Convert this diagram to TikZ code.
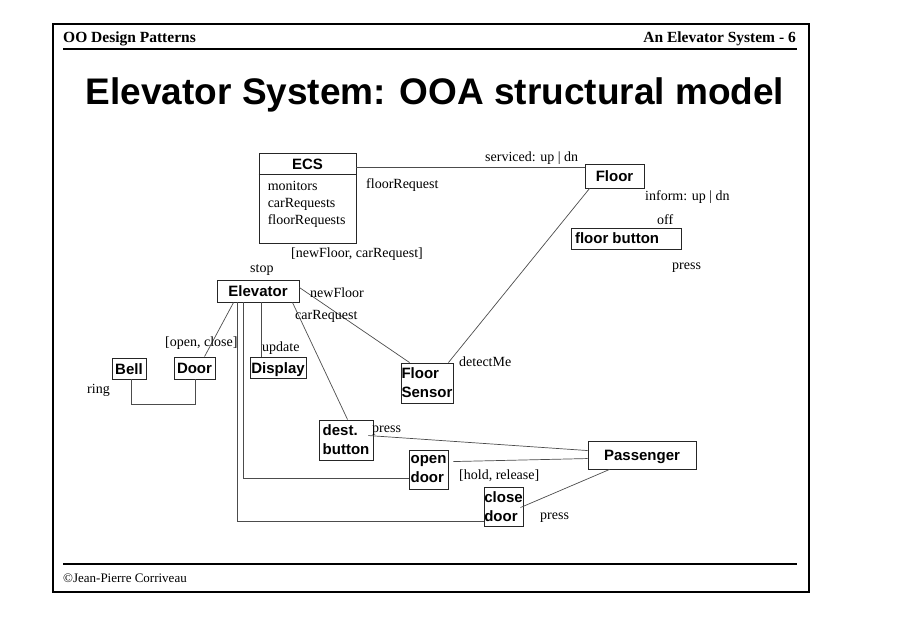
\documentclass[tikz,border=0pt]{standalone}
\usepackage{fontspec}
\setmainfont{Liberation Serif}
\setsansfont{Liberation Sans}
\usetikzlibrary{calc}
\tikzset{
  cls/.style={draw=black!85, line width=0.9pt, inner sep=0pt, font=\sffamily\bfseries\fontsize{15}{19}\selectfont},
  one/.style={text height=11pt, text depth=0pt},
  two/.style={align=left},
  conn/.style={draw=black!70, line width=0.7pt},
  lbl/.style={inner sep=0pt, anchor=west, font=\fontsize{14}{16}\selectfont},
}
\begin{document}
\begin{tikzpicture}[x=1pt,y=-1pt]
\useasboundingbox (0,0) rectangle (910,636);
% frame
\draw[line width=1.4pt] (53,24) rectangle (809,592);
\draw[line width=2pt] (63,49) -- (797,49);
\draw[line width=2pt] (63,564) -- (797,564);
\node[inner sep=0pt, anchor=south west, font=\bfseries\fontsize{15.5}{18}\selectfont] (hdl) at (63,46) {OO Design Patterns};
\node[inner sep=0pt, anchor=south east, font=\bfseries\fontsize{15.5}{18}\selectfont] (hdr) at (796,46) {An Elevator System - 6};
\node[inner sep=0pt, anchor=west, font=\fontsize{13}{15}\selectfont] (ftr) at (63,578) {©Jean-Pierre Corriveau};
\node[inner sep=0pt, font=\sffamily\bfseries\fontsize{37}{41}\selectfont] (title) at (435,95) {Elevator System: OOA structural model};

% classes
\node[draw=black!85, line width=0.9pt, minimum width=97pt, minimum height=90pt, inner sep=0pt] (ECS) at (307.5,198) {};
\draw[draw=black!85, line width=0.9pt] ($(ECS.north west)+(0,22)$) -- ($(ECS.north east)+(0,22)$);
\node[inner sep=0pt, one, font=\sffamily\bfseries\fontsize{15}{18}\selectfont] (ecsname) at ($(ECS.north)+(0,11)$) {ECS};
\node[inner sep=0pt, anchor=north west, align=left, font=\fontsize{14}{17}\selectfont] (ecsattr) at ($(ECS.north west)+(9,28)$) {monitors\\carRequests\\floorRequests};

\node[cls, one, minimum width=59pt, minimum height=24pt] (Floor) at (614.5,176) {Floor};
\node[cls, one, minimum width=110pt, minimum height=21pt] (fb) at (626,238.5) {\makebox[102pt][l]{floor button}};
\node[cls, one, minimum width=82pt, minimum height=22pt] (Elev) at (258,291) {Elevator};
\node[cls, one, minimum width=34pt, minimum height=21pt] (Bell) at (129,368.5) {Bell};
\node[cls, one, minimum width=41pt, minimum height=22pt] (Door) at (194.5,368) {Door};
\node[cls, one, minimum width=56pt, minimum height=21pt] (Disp) at (278,367.5) {Display};
\node[cls, two, minimum width=52pt, minimum height=40pt] (FS) at (427,383) {Floor\\Sensor};
\node[cls, two, minimum width=54pt, minimum height=40pt] (dest) at (346,440) {dest.\\button};
\node[cls, two, minimum width=39pt, minimum height=39pt] (od) at (428.5,469.5) {open\\door};
\node[cls, two, minimum width=39pt, minimum height=39pt] (cd) at (503.5,506.5) {close\\door};
\node[cls, one, minimum width=108pt, minimum height=28pt] (Pass) at (642,455) {Passenger};

% connectors
\draw[conn] ($(ECS.north east)+(0,15)$) -- ($(Floor.north west)+(0,4)$);
\draw[conn] ($(Floor.south east)+(-5,0)$) -- ($(Floor.south east)+(-5,0)$ |- fb.north);
\draw[conn] ($(fb.south west)+(63,0)$) -- ($(fb.south west)+(63,0)$ |- Pass.north);
\draw[conn] ($(Floor.south west)+(5,0)$) -- ($(FS.north east)+(-5,0)$);
\draw[conn] ($(Elev.north east)+(-20,0)$) -- ($(Elev.north east)+(-20,0)$ |- ECS.south);
\draw[conn] ($(Elev.north east)+(0,8)$) -- ($(FS.north west)+(9,0)$);
\draw[conn] ($(Elev.south east)+(-7,0)$) -- ($(dest.north west)+(29,0)$);
\draw[conn] ($(Elev.south west)+(17,0)$) -- ($(Door.north west)+(31,0)$);
\draw[conn] ($(Elev.south west)+(45,0)$) -- ($(Disp.north west)+(12,0)$);
\draw[conn] ($(Elev.south west)+(21,0)$) |- ($(cd.south west)+(0,-5)$);
\draw[conn] ($(Elev.south west)+(27,0)$) |- ($(od.south west)+(0,-11)$);
\draw[conn] ($(Bell.south west)+(20,0)$) -- ++(0,25) -| ($(Door.south west)+(22,0)$);
\draw[conn] ($(dest.north east)+(-5,16)$) -- ($(Pass.north west)+(0,10)$);
\draw[conn] ($(od.north east)+(5,12)$) -- ($(Pass.north west)+(0,18)$);
\draw[conn] ($(cd.north east)+(-3,21)$) -- ($(Pass.south west)+(22,0)$);

% labels
\node[lbl] (l1) at (485,158) {serviced: up | dn};
\node[lbl] (l2) at (366,185) {floorRequest};
\node[lbl] (l3) at (645,197) {inform: up | dn};
\node[lbl] (l4) at (657,220) {off};
\node[lbl] (l5) at (672,268) {press};
\node[lbl] (l6) at (291,254) {[newFloor, carRequest]};
\node[lbl] (l7) at (250,270) {stop};
\node[lbl] (l8) at (310,293) {newFloor};
\node[lbl] (l9) at (295,316) {carRequest};
\node[lbl] (l10) at (165,343) {[open, close]};
\node[lbl] (l11) at (262,348) {update};
\node[lbl] (l12) at (87,390) {ring};
\node[lbl] (l13) at (459,362) {detectMe};
\node[lbl] (l14) at (372,431) {press};
\node[lbl] (l15) at (459,476) {[hold, release]};
\node[lbl] (l16) at (540,518) {press};
\end{tikzpicture}
\end{document}
